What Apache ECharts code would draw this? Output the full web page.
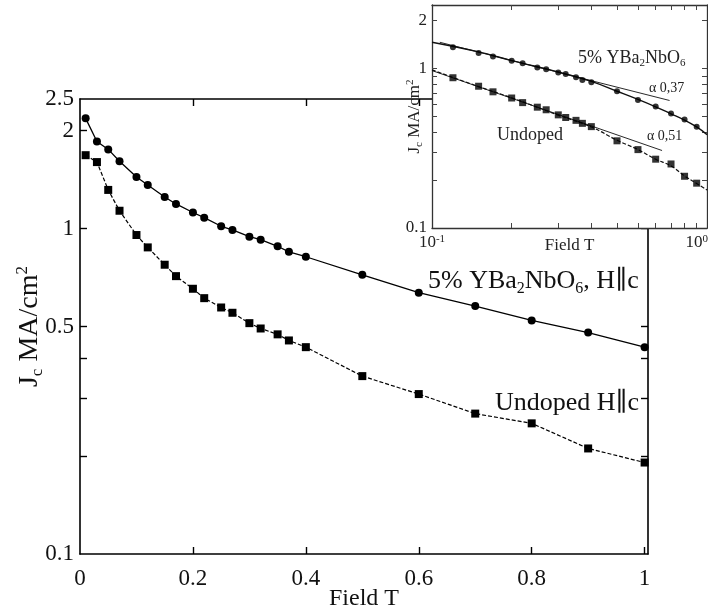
<!DOCTYPE html>
<html><head><meta charset="utf-8">
<script src="https://cdn.jsdelivr.net/npm/echarts@6/dist/echarts.min.js"></script>
<style>html,body{margin:0;padding:0;background:#fff}#c{width:708px;height:612px}</style>
</head><body><div id="c"></div>
<script>
// ---- data ----
const fieldT = [0.01,0.03,0.05,0.07,0.10,0.12,0.15,0.17,0.20,0.22,0.25,0.27,0.30,0.32,0.35,0.37,0.40,0.50,0.60,0.70,0.80,0.90,1.00];
const dopedJc = [2.18,1.85,1.75,1.61,1.44,1.36,1.25,1.19,1.12,1.08,1.016,0.99,0.944,0.924,0.882,0.848,0.819,0.721,0.635,0.578,0.522,0.479,0.432];
const undopedJc = [1.68,1.60,1.314,1.134,0.955,0.875,0.774,0.714,0.653,0.611,0.572,0.551,0.512,0.493,0.473,0.453,0.432,0.352,0.310,0.270,0.252,0.211,0.191];

// inset fit curves
const fitT = [0.1,0.15,0.2,0.3,0.4,0.5,0.6,0.7,0.8,0.9,1.0,1.094];
const dopedFitJc = [1.46,1.27,1.12,0.95,0.83,0.72,0.64,0.575,0.52,0.475,0.43,0.385];
const undopedFitJc = [0.98,0.77,0.655,0.51,0.43,0.355,0.31,0.27,0.245,0.212,0.19,0.173];
// power-law guide lines (end points)
const dopedPowT = [0.107,0.79];
const dopedPowJc = [1.46,0.63];
const undopedPowT = [0.1,0.74];
const undopedPowJc = [0.97,0.306];

// tick values
const mainXLabels = [0,0.2,0.4,0.6,0.8,1];
const mainXTicks = [0.2,0.4,0.6,0.8,1];
const mainYLabels = [0.1,0.5,1,2,2.5];
const mainYTicks = [0.2,0.3,0.4,0.5,1,2];
const insetXLabels = [0.1,1];
const insetXTicks = [0.2,0.3,0.4,0.5,0.6,0.7,0.8,0.9,1];
const insetYLabels = [0.1,1,2];
const insetYTicks = [0.2,0.3,0.4,0.5,0.6,0.7,0.8,0.9,1,2];

const FF = 'Liberation Serif, Times New Roman, DejaVu Serif, serif';
const zip = (a,b) => a.map((v,i)=>[v,b[i]]);
const insetPts = (a,b) => zip(a,b).filter(p => p[0] > 0.1);

const chart = echarts.init(document.getElementById('c'), null, {renderer:'canvas'});
const axLine = {show:true, onZero:false, lineStyle:{color:'#000', width:1.6}};
const inAxLine = {show:true, onZero:false, lineStyle:{color:'#333', width:1.3}};
const mainTick = {show:true, inside:true, length:7, lineStyle:{color:'#000', width:1.4}};
const inTick = {show:true, inside:true, length:5, lineStyle:{color:'#444', width:1}};

const option = {
  animation:false,
  backgroundColor:'#fff',
  grid:[
    {left:80, top:99, width:568, height:455, show:false, z:0, containLabel:false, outerBoundsMode:'none'},
    {left:432, top:5, width:275, height:223, show:true, backgroundColor:'#fff', borderWidth:0, z:1, containLabel:false, outerBoundsMode:'none'}
  ],
  xAxis:[
    {type:'value', gridIndex:0, min:0, max:1.006, position:'bottom',
     axisLine:axLine, splitLine:{show:false},
     axisTick:Object.assign({customValues:mainXTicks}, mainTick),
     axisLabel:{customValues:mainXLabels, fontSize:23, fontFamily:FF, color:'#111', margin:13},
     name:'Field T', nameLocation:'middle', nameGap:33, nameMoveOverlap:false,
     nameTextStyle:{fontSize:24, fontFamily:FF, color:'#111'}},
    {type:'value', gridIndex:0, min:0, max:1.006, position:'top',
     axisLine:axLine, splitLine:{show:false},
     axisTick:Object.assign({customValues:mainXTicks}, mainTick),
     axisLabel:{show:false}},
    {type:'log', logBase:10, gridIndex:1, min:0.1, max:1.094, position:'bottom', z:3,
     axisLine:inAxLine, splitLine:{show:false},
     axisTick:Object.assign({customValues:insetXTicks}, inTick),
     axisLabel:{customValues:insetXLabels, fontSize:17, fontFamily:FF, color:'#222', margin:6,
       formatter: v => (Math.abs(v-0.1)<1e-6 ? '10{sup|-1}' : (Math.abs(v-1)<1e-6 ? '10{sup|0}' : '')),
       rich:{sup:{fontSize:11, fontFamily:FF, color:'#222', verticalAlign:'top', lineHeight:10}}},
     name:'Field T', nameLocation:'middle', nameGap:9, nameMoveOverlap:false,
     nameTextStyle:{fontSize:17, fontFamily:FF, color:'#222'}},
    {type:'log', logBase:10, gridIndex:1, min:0.1, max:1.094, position:'top', z:3,
     axisLine:inAxLine, splitLine:{show:false},
     axisTick:Object.assign({customValues:insetXTicks}, inTick),
     axisLabel:{show:false}}
  ],
  yAxis:[
    {type:'log', logBase:10, gridIndex:0, min:0.1, max:2.5, position:'left',
     axisLine:axLine, splitLine:{show:false},
     axisTick:Object.assign({customValues:mainYTicks}, mainTick),
     axisLabel:{customValues:mainYLabels, fontSize:23, fontFamily:FF, color:'#111', margin:6,
       formatter: v => String(+v.toFixed(2))},
     name:'J{sub|c} MA/cm{sup|2}', nameLocation:'middle', nameGap:34, nameMoveOverlap:false,
     nameTextStyle:{fontSize:28, fontFamily:FF, color:'#111', lineHeight:32,
       rich:{sub:{fontSize:17, fontFamily:FF, color:'#111', verticalAlign:'bottom', lineHeight:15},
             sup:{fontSize:17, fontFamily:FF, color:'#111', verticalAlign:'top', lineHeight:15}}}},
    {type:'log', logBase:10, gridIndex:0, min:0.1, max:2.5, position:'right',
     axisLine:axLine, splitLine:{show:false},
     axisTick:Object.assign({customValues:mainYTicks}, mainTick),
     axisLabel:{show:false}},
    {type:'log', logBase:10, gridIndex:1, min:0.1, max:2.5, position:'left', z:3,
     axisLine:inAxLine, splitLine:{show:false},
     axisTick:Object.assign({customValues:insetYTicks}, inTick),
     axisLabel:{customValues:insetYLabels, fontSize:17, fontFamily:FF, color:'#222', margin:5,
       formatter: v => String(+v.toFixed(2))},
     name:'J{sub|c} MA/cm{sup|2}', nameLocation:'middle', nameGap:7, nameMoveOverlap:false,
     nameTextStyle:{fontSize:17, fontFamily:FF, color:'#222', lineHeight:20,
       rich:{sub:{fontSize:11, fontFamily:FF, color:'#222', verticalAlign:'bottom', lineHeight:9},
             sup:{fontSize:11, fontFamily:FF, color:'#222', verticalAlign:'top', lineHeight:9}}}},
    {type:'log', logBase:10, gridIndex:1, min:0.1, max:2.5, position:'right', z:3,
     axisLine:inAxLine, splitLine:{show:false},
     axisTick:Object.assign({customValues:insetYTicks}, inTick),
     axisLabel:{show:false}}
  ],
  series:[
    {name:'doped', type:'line', xAxisIndex:0, yAxisIndex:0, data:zip(fieldT,dopedJc),
     symbol:'circle', symbolSize:8, itemStyle:{color:'#000'}, lineStyle:{color:'#000', width:1.3}, z:5},
    {name:'undoped', type:'line', xAxisIndex:0, yAxisIndex:0, data:zip(fieldT,undopedJc),
     symbol:'rect', symbolSize:8, itemStyle:{color:'#000'}, lineStyle:{color:'#000', width:1.2, type:[4,2]}, z:5},
    {name:'dopedFit', type:'line', xAxisIndex:2, yAxisIndex:2, data:zip(fitT,dopedFitJc), smooth:0.4,
     symbol:'none', lineStyle:{color:'#111', width:1.4}, z:6},
    {name:'undopedFit', type:'line', xAxisIndex:2, yAxisIndex:2, data:zip(fitT,undopedFitJc), smooth:0.4,
     symbol:'none', lineStyle:{color:'#111', width:1.2, type:[4,2]}, z:6},
    {name:'dopedPow', type:'line', xAxisIndex:2, yAxisIndex:2, data:zip(dopedPowT,dopedPowJc),
     symbol:'none', lineStyle:{color:'#111', width:0.9}, z:6},
    {name:'undopedPow', type:'line', xAxisIndex:2, yAxisIndex:2, data:zip(undopedPowT,undopedPowJc),
     symbol:'none', lineStyle:{color:'#111', width:0.9}, z:6},
    {name:'dopedInset', type:'scatter', xAxisIndex:2, yAxisIndex:2, data:insetPts(fieldT,dopedJc),
     symbol:'circle', symbolSize:6, itemStyle:{color:'#000'}, z:7},
    {name:'undopedInset', type:'scatter', xAxisIndex:2, yAxisIndex:2, data:insetPts(fieldT,undopedJc),
     symbol:'rect', symbolSize:7, itemStyle:{color:'#000'}, z:7}
  ],
  graphic:[
    {type:'text', x:428, y:281, z:10, style:{text:'5% YBa{sub|2}NbO{sub|6}, H\u2225c', fontSize:26, fontFamily:FF, fill:'#111',
      lineHeight:32, align:'left', verticalAlign:'middle',
      rich:{sub:{fontSize:16, fontFamily:FF, fill:'#111', verticalAlign:'bottom', lineHeight:14}}}},
    {type:'text', x:495, y:403, z:10, style:{text:'Undoped H\u2225c', fontSize:26, fontFamily:FF, fill:'#111',
      align:'left', verticalAlign:'middle'}},
    {type:'text', x:578, y:58, z:10, style:{text:'5% YBa{sub|2}NbO{sub|6}', fontSize:18, fontFamily:FF, fill:'#222',
      lineHeight:22, align:'left', verticalAlign:'middle',
      rich:{sub:{fontSize:11, fontFamily:FF, fill:'#222', verticalAlign:'bottom', lineHeight:9}}}},
    {type:'text', x:497, y:135, z:10, style:{text:'Undoped', fontSize:18, fontFamily:FF, fill:'#222',
      align:'left', verticalAlign:'middle'}},
    {type:'text', x:649, y:88, z:10, style:{text:'\u03b1 0,37', fontSize:14, fontFamily:FF, fill:'#222',
      align:'left', verticalAlign:'middle'}},
    {type:'text', x:647, y:136, z:10, style:{text:'\u03b1 0,51', fontSize:14, fontFamily:FF, fill:'#222',
      align:'left', verticalAlign:'middle'}}
  ]
};
chart.setOption(option);
</script>
</body></html>
